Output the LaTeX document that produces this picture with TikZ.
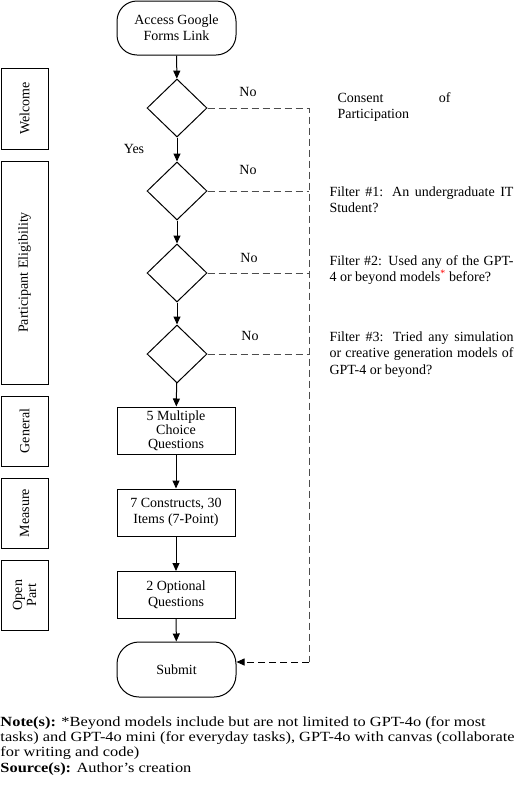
\documentclass[tikz,border=0pt]{standalone}
\usepackage{fontspec}
\setmainfont{Liberation Serif}
\newfontfamily\notefont[FakeStretch=1.17]{Liberation Serif}
\usetikzlibrary{shapes.geometric, arrows.meta}

\begin{document}
\begin{tikzpicture}[x=1pt, y=-1pt, line width=1pt,
  font=\fontsize{14}{16}\selectfont,
  term/.style={draw, rounded corners=20pt, minimum width=119pt, minimum height=54pt, align=center},
  decision/.style={draw, diamond, minimum width=60pt, minimum height=58pt, inner sep=0pt},
  proc/.style={draw, minimum width=118pt, minimum height=47pt, align=center, inner sep=1pt},
  phase/.style={draw, rotate=90, minimum height=47pt, align=center, inner sep=1pt},
  filter/.style={anchor=north west, inner sep=0pt, text width=184pt, align=justify, font=\fontsize{14}{16.5}\selectfont},
  flow/.style={-{Triangle[length=8pt,width=7pt]}},
  reject/.style={dashed, dash pattern=on 7pt off 4pt, line width=0.9pt, black!70}]

\useasboundingbox (0,0) rectangle (520,793);

\node[term] (start) at (176.5,28) {Access Google\\Forms Link};
\node[decision] (d1) at (177,108) {};
\node[decision] (d2) at (177,191) {};
\node[decision] (d3) at (177,273) {};
\node[decision] (d4) at (177,354) {};
\node[proc, font=\fontsize{14}{14}\selectfont] (q1) at (176,430.5) {5 Multiple\\Choice\\Questions};
\node[proc] (q2) at (176,512.5) {7 Constructs, 30\\Items (7-Point)};
\node[proc] (q3) at (176,595) {2 Optional\\Questions};
\node[term, minimum height=55pt, rounded corners=22pt] (submit) at (176.5,669.5) {Submit};

\draw[flow] (start) -- (d1);
\draw[flow] (d1) -- (d2);
\draw[flow] (d2) -- (d3);
\draw[flow] (d3) -- (d4);
\draw[flow] (d4) -- (q1);
\draw[flow] (q1) -- (q2);
\draw[flow] (q2) -- (q3);
\draw[flow] (q3) -- (submit);

\coordinate (rtop) at (309,108);
\coordinate (rbot) at (309,662);
\draw[reject] (d1.east) -- (rtop) -- (rbot);
\draw[reject] (d2.east) -- (d2.east -| rtop);
\draw[reject] (d3.east) -- (d3.east -| rtop);
\draw[reject] (d4.east) -- (d4.east -| rtop);
\draw[reject, black, flow] (rbot) -- (rbot -| submit.east);

\node (yes) at (134,149) {Yes};
\node (no1) at (248,92) {No};
\node (no2) at (248,170) {No};
\node (no3) at (249,258) {No};
\node (no4) at (250,336) {No};

\node[filter, text width=113pt] (consent) at (337,92) {Consent of\linebreak Participation};
\node[filter] (filter1) at (329,186) {Filter \#1: An undergraduate IT\linebreak Student?};
\node[filter] (filter2) at (329,255) {Filter \#2: Used any of the GPT-\linebreak 4 or beyond models\textsuperscript{\textcolor{red}{*}} before?};
\node[filter] (filter3) at (329,331) {Filter \#3: Tried any simulation\linebreak or creative generation models of\linebreak GPT-4 or beyond?};

\node[phase, minimum width=81pt] (welcome) at (24.5,108.5) {Welcome};
\node[phase, minimum width=223pt] (eligibility) at (24.5,272.5) {Participant Eligibility};
\node[phase, minimum width=70pt] (general) at (24.5,431) {General};
\node[phase, minimum width=70pt] (measure) at (24.5,513) {Measure};
\node[phase, minimum width=70pt, font=\fontsize{14}{14}\selectfont] (open) at (24.5,595) {Open\\Part};

\node[anchor=north west, inner sep=0pt, align=left, font=\notefont\fontsize{14}{15.3}\selectfont] (note) at (0,716) {\textbf{Note(s):} *Beyond models include but are not limited to GPT-4o (for most\\tasks) and GPT-4o mini (for everyday tasks), GPT-4o with canvas (collaborate\\for writing and code)\\\textbf{Source(s):} Author’s creation};
\end{tikzpicture}
\end{document}
